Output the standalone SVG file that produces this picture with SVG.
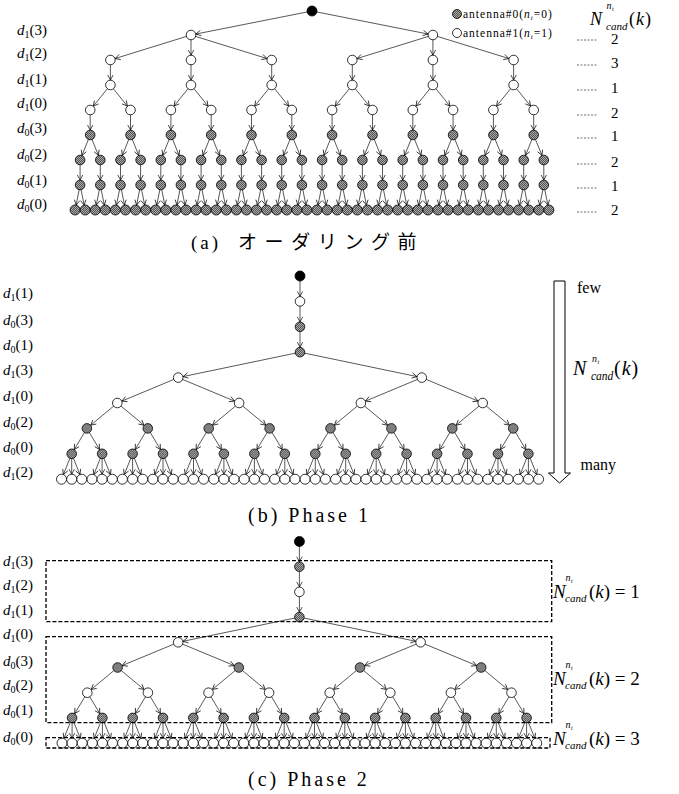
<svg xmlns="http://www.w3.org/2000/svg" width="679" height="794" viewBox="0 0 679 794" font-family="'Liberation Serif','Tinos','Times New Roman','DejaVu Serif',serif">
<defs>
<pattern id="h" width="2" height="2" patternUnits="userSpaceOnUse"><rect width="2" height="2" fill="#555"/><rect width="1" height="1" fill="#a8a8a8"/><rect x="1" y="1" width="1" height="1" fill="#a8a8a8"/></pattern>
<marker id="ah" markerUnits="userSpaceOnUse" markerWidth="12" markerHeight="8" refX="10" refY="3" orient="auto" overflow="visible"><path d="M0,0.3 L5,3 L0,5.7" fill="none" stroke="#000" stroke-width=".7"/></marker>
</defs>
<style>
text{font-family:'Liberation Serif','Tinos','Times New Roman','DejaVu Serif',serif;fill:#000}
.i{font-style:italic}
.lb{font-size:15px}
circle{stroke:#000;stroke-width:.8;r:4.8px}
.lf circle{r:5px}
.w circle{fill:#fff}
.g circle{fill:url(#h)}
.b circle{fill:#000}
.e line{stroke:#111;stroke-width:.7;marker-end:url(#ah)}
.dl{stroke:#444;stroke-width:.8;stroke-dasharray:2 1.5}
.bx{fill:none;stroke:#000;stroke-width:1.3;stroke-dasharray:4 2}
.cap{font-size:20px;letter-spacing:3px}
.jp{font-family:'Noto Sans CJK JP','Noto Sans CJK SC',sans-serif}
</style>
<rect width="679" height="794" fill="#fff"/>

<!-- ========== (a) ========== -->
<g id="edges-a" class="e">
<g transform="translate(0,11)"><line x1="312" x2="191" y2="24"/><line x1="312" x2="432.9" y2="24"/></g>
<g transform="translate(0,35)"><line x1="191" x2="110.4" y2="25"/><line x1="191" x2="191" y2="25"/><line x1="191" x2="271.7" y2="25"/><line x1="432.9" x2="352.3" y2="25"/><line x1="432.9" x2="432.9" y2="25"/><line x1="432.9" x2="513.6" y2="25"/></g>
<g transform="translate(0,60)"><line x1="110.4" x2="110.4" y2="25"/><line x1="191" x2="191" y2="25"/><line x1="271.7" x2="271.7" y2="25"/><line x1="352.3" x2="352.3" y2="25"/><line x1="432.9" x2="432.9" y2="25"/><line x1="513.6" x2="513.6" y2="25"/></g>
<g transform="translate(0,85)"><line x1="110.4" x2="90.2" y2="25"/><line x1="110.4" x2="130.5" y2="25"/><line x1="191" x2="170.9" y2="25"/><line x1="191" x2="211.2" y2="25"/><line x1="271.7" x2="251.5" y2="25"/><line x1="271.7" x2="291.8" y2="25"/><line x1="352.3" x2="332.1" y2="25"/><line x1="352.3" x2="372.5" y2="25"/><line x1="432.9" x2="412.8" y2="25"/><line x1="432.9" x2="453.1" y2="25"/><line x1="513.6" x2="493.4" y2="25"/><line x1="513.6" x2="533.7" y2="25"/></g>
<g transform="translate(0,110)"><line x1="90.2" x2="90.2" y2="25"/><line x1="130.5" x2="130.5" y2="25"/><line x1="170.9" x2="170.9" y2="25"/><line x1="211.2" x2="211.2" y2="25"/><line x1="251.5" x2="251.5" y2="25"/><line x1="291.8" x2="291.8" y2="25"/><line x1="332.1" x2="332.1" y2="25"/><line x1="372.5" x2="372.5" y2="25"/><line x1="412.8" x2="412.8" y2="25"/><line x1="453.1" x2="453.1" y2="25"/><line x1="493.4" x2="493.4" y2="25"/><line x1="533.7" x2="533.7" y2="25"/></g>
<g transform="translate(0,135)"><line x1="90.2" x2="80.1" y2="25"/><line x1="90.2" x2="100.3" y2="25"/><line x1="130.5" x2="120.5" y2="25"/><line x1="130.5" x2="140.6" y2="25"/><line x1="170.9" x2="160.8" y2="25"/><line x1="170.9" x2="180.9" y2="25"/><line x1="211.2" x2="201.1" y2="25"/><line x1="211.2" x2="221.3" y2="25"/><line x1="251.5" x2="241.4" y2="25"/><line x1="251.5" x2="261.6" y2="25"/><line x1="291.8" x2="281.7" y2="25"/><line x1="291.8" x2="301.9" y2="25"/><line x1="332.1" x2="322.1" y2="25"/><line x1="332.1" x2="342.2" y2="25"/><line x1="372.5" x2="362.4" y2="25"/><line x1="372.5" x2="382.5" y2="25"/><line x1="412.8" x2="402.7" y2="25"/><line x1="412.8" x2="422.9" y2="25"/><line x1="453.1" x2="443" y2="25"/><line x1="453.1" x2="463.2" y2="25"/><line x1="493.4" x2="483.3" y2="25"/><line x1="493.4" x2="503.5" y2="25"/><line x1="533.7" x2="523.7" y2="25"/><line x1="533.7" x2="543.8" y2="25"/></g>
<g transform="translate(0,160)"><line x1="80.1" x2="80.1" y2="25"/><line x1="100.3" x2="100.3" y2="25"/><line x1="120.5" x2="120.5" y2="25"/><line x1="140.6" x2="140.6" y2="25"/><line x1="160.8" x2="160.8" y2="25"/><line x1="180.9" x2="180.9" y2="25"/><line x1="201.1" x2="201.1" y2="25"/><line x1="221.3" x2="221.3" y2="25"/><line x1="241.4" x2="241.4" y2="25"/><line x1="261.6" x2="261.6" y2="25"/><line x1="281.7" x2="281.7" y2="25"/><line x1="301.9" x2="301.9" y2="25"/><line x1="322.1" x2="322.1" y2="25"/><line x1="342.2" x2="342.2" y2="25"/><line x1="362.4" x2="362.4" y2="25"/><line x1="382.5" x2="382.5" y2="25"/><line x1="402.7" x2="402.7" y2="25"/><line x1="422.9" x2="422.9" y2="25"/><line x1="443" x2="443" y2="25"/><line x1="463.2" x2="463.2" y2="25"/><line x1="483.3" x2="483.3" y2="25"/><line x1="503.5" x2="503.5" y2="25"/><line x1="523.7" x2="523.7" y2="25"/><line x1="543.8" x2="543.8" y2="25"/></g>
<g transform="translate(0,185)"><line x1="80.1" x2="75.1" y2="25"/><line x1="80.1" x2="85.2" y2="25"/><line x1="100.3" x2="95.3" y2="25"/><line x1="100.3" x2="105.3" y2="25"/><line x1="120.5" x2="115.4" y2="25"/><line x1="120.5" x2="125.5" y2="25"/><line x1="140.6" x2="135.6" y2="25"/><line x1="140.6" x2="145.7" y2="25"/><line x1="160.8" x2="155.7" y2="25"/><line x1="160.8" x2="165.8" y2="25"/><line x1="180.9" x2="175.9" y2="25"/><line x1="180.9" x2="186" y2="25"/><line x1="201.1" x2="196.1" y2="25"/><line x1="201.1" x2="206.1" y2="25"/><line x1="221.3" x2="216.2" y2="25"/><line x1="221.3" x2="226.3" y2="25"/><line x1="241.4" x2="236.4" y2="25"/><line x1="241.4" x2="246.5" y2="25"/><line x1="261.6" x2="256.5" y2="25"/><line x1="261.6" x2="266.6" y2="25"/><line x1="281.7" x2="276.7" y2="25"/><line x1="281.7" x2="286.8" y2="25"/><line x1="301.9" x2="296.9" y2="25"/><line x1="301.9" x2="306.9" y2="25"/><line x1="322.1" x2="317" y2="25"/><line x1="322.1" x2="327.1" y2="25"/><line x1="342.2" x2="337.2" y2="25"/><line x1="342.2" x2="347.3" y2="25"/><line x1="362.4" x2="357.3" y2="25"/><line x1="362.4" x2="367.4" y2="25"/><line x1="382.5" x2="377.5" y2="25"/><line x1="382.5" x2="387.6" y2="25"/><line x1="402.7" x2="397.7" y2="25"/><line x1="402.7" x2="407.7" y2="25"/><line x1="422.9" x2="417.8" y2="25"/><line x1="422.9" x2="427.9" y2="25"/><line x1="443" x2="438" y2="25"/><line x1="443" x2="448.1" y2="25"/><line x1="463.2" x2="458.1" y2="25"/><line x1="463.2" x2="468.2" y2="25"/><line x1="483.3" x2="478.3" y2="25"/><line x1="483.3" x2="488.4" y2="25"/><line x1="503.5" x2="498.5" y2="25"/><line x1="503.5" x2="508.5" y2="25"/><line x1="523.7" x2="518.6" y2="25"/><line x1="523.7" x2="528.7" y2="25"/><line x1="543.8" x2="538.8" y2="25"/><line x1="543.8" x2="548.9" y2="25"/></g>
</g>

<g id="nodes-a">
<g class="b"><circle id="a-root" cx="312" cy="11" style="r:5px"/></g>
<g class="w" transform="translate(0,35)"><circle id="a1-0" cx="191"/><circle id="a1-1" cx="432.9"/></g>
<g class="w" transform="translate(0,60)"><circle id="a2-0" cx="110.4"/><circle id="a2-1" cx="191"/><circle id="a2-2" cx="271.7"/><circle id="a2-3" cx="352.3"/><circle id="a2-4" cx="432.9"/><circle id="a2-5" cx="513.6"/></g>
<g class="w" transform="translate(0,85)"><circle id="a3-0" cx="110.4"/><circle id="a3-1" cx="191"/><circle id="a3-2" cx="271.7"/><circle id="a3-3" cx="352.3"/><circle id="a3-4" cx="432.9"/><circle id="a3-5" cx="513.6"/></g>
<g class="w" transform="translate(0,110)"><circle id="a4-0" cx="90.2"/><circle id="a4-1" cx="130.5"/><circle id="a4-2" cx="170.9"/><circle id="a4-3" cx="211.2"/><circle id="a4-4" cx="251.5"/><circle id="a4-5" cx="291.8"/><circle id="a4-6" cx="332.1"/><circle id="a4-7" cx="372.5"/><circle id="a4-8" cx="412.8"/><circle id="a4-9" cx="453.1"/><circle id="a4-10" cx="493.4"/><circle id="a4-11" cx="533.7"/></g>
<g class="g" transform="translate(0,135)"><circle id="a5-0" cx="90.2"/><circle id="a5-1" cx="130.5"/><circle id="a5-2" cx="170.9"/><circle id="a5-3" cx="211.2"/><circle id="a5-4" cx="251.5"/><circle id="a5-5" cx="291.8"/><circle id="a5-6" cx="332.1"/><circle id="a5-7" cx="372.5"/><circle id="a5-8" cx="412.8"/><circle id="a5-9" cx="453.1"/><circle id="a5-10" cx="493.4"/><circle id="a5-11" cx="533.7"/></g>
<g class="g" transform="translate(0,160)"><circle id="a6-0" cx="80.1"/><circle id="a6-1" cx="100.3"/><circle id="a6-2" cx="120.5"/><circle id="a6-3" cx="140.6"/><circle id="a6-4" cx="160.8"/><circle id="a6-5" cx="180.9"/><circle id="a6-6" cx="201.1"/><circle id="a6-7" cx="221.3"/><circle id="a6-8" cx="241.4"/><circle id="a6-9" cx="261.6"/><circle id="a6-10" cx="281.7"/><circle id="a6-11" cx="301.9"/><circle id="a6-12" cx="322.1"/><circle id="a6-13" cx="342.2"/><circle id="a6-14" cx="362.4"/><circle id="a6-15" cx="382.5"/><circle id="a6-16" cx="402.7"/><circle id="a6-17" cx="422.9"/><circle id="a6-18" cx="443"/><circle id="a6-19" cx="463.2"/><circle id="a6-20" cx="483.3"/><circle id="a6-21" cx="503.5"/><circle id="a6-22" cx="523.7"/><circle id="a6-23" cx="543.8"/></g>
<g class="g" transform="translate(0,185)"><circle id="a7-0" cx="80.1"/><circle id="a7-1" cx="100.3"/><circle id="a7-2" cx="120.5"/><circle id="a7-3" cx="140.6"/><circle id="a7-4" cx="160.8"/><circle id="a7-5" cx="180.9"/><circle id="a7-6" cx="201.1"/><circle id="a7-7" cx="221.3"/><circle id="a7-8" cx="241.4"/><circle id="a7-9" cx="261.6"/><circle id="a7-10" cx="281.7"/><circle id="a7-11" cx="301.9"/><circle id="a7-12" cx="322.1"/><circle id="a7-13" cx="342.2"/><circle id="a7-14" cx="362.4"/><circle id="a7-15" cx="382.5"/><circle id="a7-16" cx="402.7"/><circle id="a7-17" cx="422.9"/><circle id="a7-18" cx="443"/><circle id="a7-19" cx="463.2"/><circle id="a7-20" cx="483.3"/><circle id="a7-21" cx="503.5"/><circle id="a7-22" cx="523.7"/><circle id="a7-23" cx="543.8"/></g>
<g class="g lf" transform="translate(0,210)"><circle id="a8-0" cx="75.1"/><circle id="a8-1" cx="85.2"/><circle id="a8-2" cx="95.3"/><circle id="a8-3" cx="105.3"/><circle id="a8-4" cx="115.4"/><circle id="a8-5" cx="125.5"/><circle id="a8-6" cx="135.6"/><circle id="a8-7" cx="145.7"/><circle id="a8-8" cx="155.7"/><circle id="a8-9" cx="165.8"/><circle id="a8-10" cx="175.9"/><circle id="a8-11" cx="186"/><circle id="a8-12" cx="196.1"/><circle id="a8-13" cx="206.1"/><circle id="a8-14" cx="216.2"/><circle id="a8-15" cx="226.3"/><circle id="a8-16" cx="236.4"/><circle id="a8-17" cx="246.5"/><circle id="a8-18" cx="256.5"/><circle id="a8-19" cx="266.6"/><circle id="a8-20" cx="276.7"/><circle id="a8-21" cx="286.8"/><circle id="a8-22" cx="296.9"/><circle id="a8-23" cx="306.9"/><circle id="a8-24" cx="317"/><circle id="a8-25" cx="327.1"/><circle id="a8-26" cx="337.2"/><circle id="a8-27" cx="347.3"/><circle id="a8-28" cx="357.3"/><circle id="a8-29" cx="367.4"/><circle id="a8-30" cx="377.5"/><circle id="a8-31" cx="387.6"/><circle id="a8-32" cx="397.7"/><circle id="a8-33" cx="407.7"/><circle id="a8-34" cx="417.8"/><circle id="a8-35" cx="427.9"/><circle id="a8-36" cx="438"/><circle id="a8-37" cx="448.1"/><circle id="a8-38" cx="458.1"/><circle id="a8-39" cx="468.2"/><circle id="a8-40" cx="478.3"/><circle id="a8-41" cx="488.4"/><circle id="a8-42" cx="498.5"/><circle id="a8-43" cx="508.5"/><circle id="a8-44" cx="518.6"/><circle id="a8-45" cx="528.7"/><circle id="a8-46" cx="538.8"/><circle id="a8-47" cx="548.9"/></g>
</g>

<g id="labels-a" class="lb">
<text x="17" y="35"><tspan class="i">d</tspan><tspan font-size="10" dy="3">1</tspan><tspan dy="-3">(3)</tspan></text>
<text x="17" y="58"><tspan class="i">d</tspan><tspan font-size="10" dy="3">1</tspan><tspan dy="-3">(2)</tspan></text>
<text x="17" y="84"><tspan class="i">d</tspan><tspan font-size="10" dy="3">1</tspan><tspan dy="-3">(1)</tspan></text>
<text x="17" y="108"><tspan class="i">d</tspan><tspan font-size="10" dy="3">1</tspan><tspan dy="-3">(0)</tspan></text>
<text x="17" y="133"><tspan class="i">d</tspan><tspan font-size="10" dy="3">0</tspan><tspan dy="-3">(3)</tspan></text>
<text x="17" y="159"><tspan class="i">d</tspan><tspan font-size="10" dy="3">0</tspan><tspan dy="-3">(2)</tspan></text>
<text x="17" y="185"><tspan class="i">d</tspan><tspan font-size="10" dy="3">0</tspan><tspan dy="-3">(1)</tspan></text>
<text x="17" y="209"><tspan class="i">d</tspan><tspan font-size="10" dy="3">0</tspan><tspan dy="-3">(0)</tspan></text>
</g>

<g id="legend">
<g class="g"><circle id="leg0" cx="457" cy="14" style="r:4.5px"/></g>
<text x="463" y="18" font-size="11.5" letter-spacing="1">antenna#0(<tspan class="i">n</tspan><tspan font-size="7" class="i" dy="2">t</tspan><tspan dy="-2">=0)</tspan></text>
<g class="w"><circle id="leg1" cx="457" cy="33" style="r:4.5px"/></g>
<text x="463" y="37" font-size="11.5" letter-spacing="1">antenna#1(<tspan class="i">n</tspan><tspan font-size="7" class="i" dy="2">t</tspan><tspan dy="-2">=1)</tspan></text>
</g>

<g id="ncand-a">
<text x="590" y="25" font-size="18" class="i">N</text>
<text x="606.5" y="9" font-size="10" class="i">n</text>
<text x="612" y="11" font-size="6" class="i">t</text>
<text x="606" y="29.5" font-size="11" class="i">cand</text>
<text x="629" y="25" font-size="18" letter-spacing="1">(<tspan class="i">k</tspan>)</text>
<line class="dl" x1="577" y1="40" x2="598" y2="40"/><text x="611" y="44" font-size="15">2</text>
<line class="dl" x1="577" y1="65" x2="598" y2="65"/><text x="611" y="68" font-size="15">3</text>
<line class="dl" x1="577" y1="90" x2="598" y2="90"/><text x="611" y="93" font-size="15">1</text>
<line class="dl" x1="577" y1="115" x2="598" y2="115"/><text x="611" y="118" font-size="15">2</text>
<line class="dl" x1="577" y1="138" x2="598" y2="138"/><text x="611" y="141" font-size="15">1</text>
<line class="dl" x1="577" y1="164" x2="598" y2="164"/><text x="611" y="167" font-size="15">2</text>
<line class="dl" x1="577" y1="188" x2="598" y2="188"/><text x="611" y="191" font-size="15">1</text>
<line class="dl" x1="577" y1="212" x2="598" y2="212"/><text x="611" y="215" font-size="15">2</text>
</g>

<g id="caption-a"><text x="191" y="249" font-size="19" letter-spacing="3">(a)</text><text class="jp" x="238" y="249" font-size="19" letter-spacing="7.6">オーダリング前</text></g>

<!-- ========== (b) ========== -->
<g id="edges-b" class="e">
<g transform="translate(0,276)"><line x1="300" x2="300" y2="25.4"/></g>
<g transform="translate(0,301.4)"><line x1="300" x2="300" y2="25.4"/></g>
<g transform="translate(0,326.8)"><line x1="300" x2="300" y2="25.4"/></g>
<g transform="translate(0,352.2)"><line x1="300" x2="178.2" y2="25.4"/><line x1="300" x2="421.8" y2="25.4"/></g>
<g transform="translate(0,377.6)"><line x1="178.2" x2="117.3" y2="25.4"/><line x1="178.2" x2="239.1" y2="25.4"/><line x1="421.8" x2="360.9" y2="25.4"/><line x1="421.8" x2="482.7" y2="25.4"/></g>
<g transform="translate(0,403)"><line x1="117.3" x2="86.9" y2="25.4"/><line x1="117.3" x2="147.8" y2="25.4"/><line x1="239.1" x2="208.7" y2="25.4"/><line x1="239.1" x2="269.6" y2="25.4"/><line x1="360.9" x2="330.5" y2="25.4"/><line x1="360.9" x2="391.4" y2="25.4"/><line x1="482.7" x2="452.3" y2="25.4"/><line x1="482.7" x2="513.2" y2="25.4"/></g>
<g transform="translate(0,428.4)"><line x1="86.9" x2="71.7" y2="25.4"/><line x1="86.9" x2="102.1" y2="25.4"/><line x1="147.8" x2="132.6" y2="25.4"/><line x1="147.8" x2="163" y2="25.4"/><line x1="208.7" x2="193.5" y2="25.4"/><line x1="208.7" x2="223.9" y2="25.4"/><line x1="269.6" x2="254.4" y2="25.4"/><line x1="269.6" x2="284.8" y2="25.4"/><line x1="330.5" x2="315.3" y2="25.4"/><line x1="330.5" x2="345.7" y2="25.4"/><line x1="391.4" x2="376.2" y2="25.4"/><line x1="391.4" x2="406.6" y2="25.4"/><line x1="452.3" x2="437.1" y2="25.4"/><line x1="452.3" x2="467.5" y2="25.4"/><line x1="513.2" x2="498" y2="25.4"/><line x1="513.2" x2="528.4" y2="25.4"/></g>
<g transform="translate(0,453.8)"><line x1="71.7" x2="61.5" y2="25.4"/><line x1="71.7" x2="71.7" y2="25.4"/><line x1="71.7" x2="81.8" y2="25.4"/><line x1="102.1" x2="92" y2="25.4"/><line x1="102.1" x2="102.1" y2="25.4"/><line x1="102.1" x2="112.3" y2="25.4"/><line x1="132.6" x2="122.4" y2="25.4"/><line x1="132.6" x2="132.6" y2="25.4"/><line x1="132.6" x2="142.7" y2="25.4"/><line x1="163" x2="152.9" y2="25.4"/><line x1="163" x2="163" y2="25.4"/><line x1="163" x2="173.2" y2="25.4"/><line x1="193.5" x2="183.3" y2="25.4"/><line x1="193.5" x2="193.5" y2="25.4"/><line x1="193.5" x2="203.6" y2="25.4"/><line x1="223.9" x2="213.8" y2="25.4"/><line x1="223.9" x2="223.9" y2="25.4"/><line x1="223.9" x2="234.1" y2="25.4"/><line x1="254.4" x2="244.2" y2="25.4"/><line x1="254.4" x2="254.4" y2="25.4"/><line x1="254.4" x2="264.5" y2="25.4"/><line x1="284.8" x2="274.7" y2="25.4"/><line x1="284.8" x2="284.8" y2="25.4"/><line x1="284.8" x2="295" y2="25.4"/><line x1="315.3" x2="305.1" y2="25.4"/><line x1="315.3" x2="315.3" y2="25.4"/><line x1="315.3" x2="325.4" y2="25.4"/><line x1="345.7" x2="335.6" y2="25.4"/><line x1="345.7" x2="345.7" y2="25.4"/><line x1="345.7" x2="355.9" y2="25.4"/><line x1="376.2" x2="366" y2="25.4"/><line x1="376.2" x2="376.2" y2="25.4"/><line x1="376.2" x2="386.3" y2="25.4"/><line x1="406.6" x2="396.5" y2="25.4"/><line x1="406.6" x2="406.6" y2="25.4"/><line x1="406.6" x2="416.8" y2="25.4"/><line x1="437.1" x2="426.9" y2="25.4"/><line x1="437.1" x2="437.1" y2="25.4"/><line x1="437.1" x2="447.2" y2="25.4"/><line x1="467.5" x2="457.4" y2="25.4"/><line x1="467.5" x2="467.5" y2="25.4"/><line x1="467.5" x2="477.7" y2="25.4"/><line x1="498" x2="487.8" y2="25.4"/><line x1="498" x2="498" y2="25.4"/><line x1="498" x2="508.1" y2="25.4"/><line x1="528.4" x2="518.3" y2="25.4"/><line x1="528.4" x2="528.4" y2="25.4"/><line x1="528.4" x2="538.6" y2="25.4"/></g>
</g>

<g id="nodes-b">
<g class="b"><circle id="b-root" cx="300" cy="276" style="r:5px"/></g>
<g class="w"><circle id="b1" cx="300" cy="301.4"/></g>
<g class="g"><circle id="b2" cx="300" cy="326.8"/><circle id="b3" cx="300" cy="352.2"/></g>
<g class="w" transform="translate(0,377.6)"><circle id="b4-0" cx="178.2"/><circle id="b4-1" cx="421.8"/></g>
<g class="w" transform="translate(0,403)"><circle id="b5-0" cx="117.3"/><circle id="b5-1" cx="239.1"/><circle id="b5-2" cx="360.9"/><circle id="b5-3" cx="482.7"/></g>
<g class="g" transform="translate(0,428.4)"><circle id="b6-0" cx="86.9"/><circle id="b6-1" cx="147.8"/><circle id="b6-2" cx="208.7"/><circle id="b6-3" cx="269.6"/><circle id="b6-4" cx="330.5"/><circle id="b6-5" cx="391.4"/><circle id="b6-6" cx="452.3"/><circle id="b6-7" cx="513.2"/></g>
<g class="g" transform="translate(0,453.8)"><circle id="b7-0" cx="71.7"/><circle id="b7-1" cx="102.1"/><circle id="b7-2" cx="132.6"/><circle id="b7-3" cx="163"/><circle id="b7-4" cx="193.5"/><circle id="b7-5" cx="223.9"/><circle id="b7-6" cx="254.4"/><circle id="b7-7" cx="284.8"/><circle id="b7-8" cx="315.3"/><circle id="b7-9" cx="345.7"/><circle id="b7-10" cx="376.2"/><circle id="b7-11" cx="406.6"/><circle id="b7-12" cx="437.1"/><circle id="b7-13" cx="467.5"/><circle id="b7-14" cx="498"/><circle id="b7-15" cx="528.4"/></g>
<g class="w lf" transform="translate(0,479.2)"><circle id="b8-0" cx="61.5"/><circle id="b8-1" cx="71.7"/><circle id="b8-2" cx="81.8"/><circle id="b8-3" cx="92"/><circle id="b8-4" cx="102.1"/><circle id="b8-5" cx="112.3"/><circle id="b8-6" cx="122.4"/><circle id="b8-7" cx="132.6"/><circle id="b8-8" cx="142.7"/><circle id="b8-9" cx="152.9"/><circle id="b8-10" cx="163"/><circle id="b8-11" cx="173.2"/><circle id="b8-12" cx="183.3"/><circle id="b8-13" cx="193.5"/><circle id="b8-14" cx="203.6"/><circle id="b8-15" cx="213.8"/><circle id="b8-16" cx="223.9"/><circle id="b8-17" cx="234.1"/><circle id="b8-18" cx="244.2"/><circle id="b8-19" cx="254.4"/><circle id="b8-20" cx="264.5"/><circle id="b8-21" cx="274.7"/><circle id="b8-22" cx="284.8"/><circle id="b8-23" cx="295"/><circle id="b8-24" cx="305.1"/><circle id="b8-25" cx="315.3"/><circle id="b8-26" cx="325.4"/><circle id="b8-27" cx="335.6"/><circle id="b8-28" cx="345.7"/><circle id="b8-29" cx="355.9"/><circle id="b8-30" cx="366"/><circle id="b8-31" cx="376.2"/><circle id="b8-32" cx="386.3"/><circle id="b8-33" cx="396.5"/><circle id="b8-34" cx="406.6"/><circle id="b8-35" cx="416.8"/><circle id="b8-36" cx="426.9"/><circle id="b8-37" cx="437.1"/><circle id="b8-38" cx="447.2"/><circle id="b8-39" cx="457.4"/><circle id="b8-40" cx="467.5"/><circle id="b8-41" cx="477.7"/><circle id="b8-42" cx="487.8"/><circle id="b8-43" cx="498"/><circle id="b8-44" cx="508.1"/><circle id="b8-45" cx="518.3"/><circle id="b8-46" cx="528.4"/><circle id="b8-47" cx="538.6"/></g>
</g>

<g id="labels-b" class="lb">
<text x="3" y="298"><tspan class="i">d</tspan><tspan font-size="10" dy="3">1</tspan><tspan dy="-3">(1)</tspan></text>
<text x="3" y="325"><tspan class="i">d</tspan><tspan font-size="10" dy="3">0</tspan><tspan dy="-3">(3)</tspan></text>
<text x="3" y="350"><tspan class="i">d</tspan><tspan font-size="10" dy="3">0</tspan><tspan dy="-3">(1)</tspan></text>
<text x="3" y="375"><tspan class="i">d</tspan><tspan font-size="10" dy="3">1</tspan><tspan dy="-3">(3)</tspan></text>
<text x="3" y="401"><tspan class="i">d</tspan><tspan font-size="10" dy="3">1</tspan><tspan dy="-3">(0)</tspan></text>
<text x="3" y="427"><tspan class="i">d</tspan><tspan font-size="10" dy="3">0</tspan><tspan dy="-3">(2)</tspan></text>
<text x="3" y="452"><tspan class="i">d</tspan><tspan font-size="10" dy="3">0</tspan><tspan dy="-3">(0)</tspan></text>
<text x="3" y="477"><tspan class="i">d</tspan><tspan font-size="10" dy="3">1</tspan><tspan dy="-3">(2)</tspan></text>
</g>

<g id="order-arrow">
<path d="M554,281 H565 V473 H570.5 L559.5,483 L548.5,473 H554 Z" fill="#fff" stroke="#000" stroke-width="1"/>
<text x="577" y="293" font-size="16">few</text>
<text x="580.5" y="470" font-size="16">many</text>
<text x="573" y="375" font-size="20" class="i">N</text>
<text x="592" y="362" font-size="10" class="i">n</text>
<text x="597.5" y="364" font-size="6" class="i">t</text>
<text x="591" y="380" font-size="11.5" class="i">cand</text>
<text x="614" y="375" font-size="20" letter-spacing="1">(<tspan class="i">k</tspan>)</text>
</g>

<text id="caption-b" class="cap" x="248" y="522">(b) Phase 1</text>

<!-- ========== (c) ========== -->
<g id="edges-c" class="e">
<g transform="translate(0,541.5)"><line x1="299.4" x2="299.4" y2="25.2"/></g>
<g transform="translate(0,566.7)"><line x1="299.4" x2="299.4" y2="25.2"/></g>
<g transform="translate(0,591.9)"><line x1="299.4" x2="299.4" y2="25.2"/></g>
<g transform="translate(0,617.1)"><line x1="299.4" x2="178.2" y2="25.2"/><line x1="299.4" x2="420.6" y2="25.2"/></g>
<g transform="translate(0,642.3)"><line x1="178.2" x2="117.6" y2="25.2"/><line x1="178.2" x2="238.8" y2="25.2"/><line x1="420.6" x2="360" y2="25.2"/><line x1="420.6" x2="481.2" y2="25.2"/></g>
<g transform="translate(0,667.5)"><line x1="117.6" x2="87.3" y2="25.2"/><line x1="117.6" x2="147.9" y2="25.2"/><line x1="238.8" x2="208.5" y2="25.2"/><line x1="238.8" x2="269.1" y2="25.2"/><line x1="360" x2="329.7" y2="25.2"/><line x1="360" x2="390.3" y2="25.2"/><line x1="481.2" x2="450.9" y2="25.2"/><line x1="481.2" x2="511.5" y2="25.2"/></g>
<g transform="translate(0,692.7)"><line x1="87.3" x2="72.1" y2="25.2"/><line x1="87.3" x2="102.4" y2="25.2"/><line x1="147.9" x2="132.7" y2="25.2"/><line x1="147.9" x2="163" y2="25.2"/><line x1="208.5" x2="193.3" y2="25.2"/><line x1="208.5" x2="223.6" y2="25.2"/><line x1="269.1" x2="253.9" y2="25.2"/><line x1="269.1" x2="284.2" y2="25.2"/><line x1="329.7" x2="314.5" y2="25.2"/><line x1="329.7" x2="344.8" y2="25.2"/><line x1="390.3" x2="375.1" y2="25.2"/><line x1="390.3" x2="405.4" y2="25.2"/><line x1="450.9" x2="435.7" y2="25.2"/><line x1="450.9" x2="466" y2="25.2"/><line x1="511.5" x2="496.3" y2="25.2"/><line x1="511.5" x2="526.6" y2="25.2"/></g>
<g transform="translate(0,717.9)"><line x1="72.1" x2="62" y2="25.2"/><line x1="72.1" x2="72.1" y2="25.2"/><line x1="72.1" x2="82.2" y2="25.2"/><line x1="102.4" x2="92.3" y2="25.2"/><line x1="102.4" x2="102.4" y2="25.2"/><line x1="102.4" x2="112.5" y2="25.2"/><line x1="132.7" x2="122.6" y2="25.2"/><line x1="132.7" x2="132.7" y2="25.2"/><line x1="132.7" x2="142.8" y2="25.2"/><line x1="163" x2="152.9" y2="25.2"/><line x1="163" x2="163" y2="25.2"/><line x1="163" x2="173.1" y2="25.2"/><line x1="193.3" x2="183.2" y2="25.2"/><line x1="193.3" x2="193.3" y2="25.2"/><line x1="193.3" x2="203.4" y2="25.2"/><line x1="223.6" x2="213.5" y2="25.2"/><line x1="223.6" x2="223.6" y2="25.2"/><line x1="223.6" x2="233.7" y2="25.2"/><line x1="253.9" x2="243.8" y2="25.2"/><line x1="253.9" x2="253.9" y2="25.2"/><line x1="253.9" x2="264" y2="25.2"/><line x1="284.2" x2="274.1" y2="25.2"/><line x1="284.2" x2="284.2" y2="25.2"/><line x1="284.2" x2="294.3" y2="25.2"/><line x1="314.5" x2="304.4" y2="25.2"/><line x1="314.5" x2="314.5" y2="25.2"/><line x1="314.5" x2="324.6" y2="25.2"/><line x1="344.8" x2="334.7" y2="25.2"/><line x1="344.8" x2="344.8" y2="25.2"/><line x1="344.8" x2="354.9" y2="25.2"/><line x1="375.1" x2="365" y2="25.2"/><line x1="375.1" x2="375.1" y2="25.2"/><line x1="375.1" x2="385.2" y2="25.2"/><line x1="405.4" x2="395.3" y2="25.2"/><line x1="405.4" x2="405.4" y2="25.2"/><line x1="405.4" x2="415.5" y2="25.2"/><line x1="435.7" x2="425.6" y2="25.2"/><line x1="435.7" x2="435.7" y2="25.2"/><line x1="435.7" x2="445.8" y2="25.2"/><line x1="466" x2="455.9" y2="25.2"/><line x1="466" x2="466" y2="25.2"/><line x1="466" x2="476.1" y2="25.2"/><line x1="496.3" x2="486.2" y2="25.2"/><line x1="496.3" x2="496.3" y2="25.2"/><line x1="496.3" x2="506.4" y2="25.2"/><line x1="526.6" x2="516.5" y2="25.2"/><line x1="526.6" x2="526.6" y2="25.2"/><line x1="526.6" x2="536.7" y2="25.2"/></g>
</g>

<g id="nodes-c">
<g class="b"><circle id="c-root" cx="299.4" cy="541.5" style="r:5px"/></g>
<g class="g"><circle id="c1" cx="299.4" cy="566.7"/></g>
<g class="w"><circle id="c2" cx="299.4" cy="591.9"/></g>
<g class="g"><circle id="c3" cx="299.4" cy="617.1"/></g>
<g class="w" transform="translate(0,642.3)"><circle id="c4-0" cx="178.2"/><circle id="c4-1" cx="420.6"/></g>
<g class="g" transform="translate(0,667.5)"><circle id="c5-0" cx="117.6"/><circle id="c5-1" cx="238.8"/><circle id="c5-2" cx="360"/><circle id="c5-3" cx="481.2"/></g>
<g class="w" transform="translate(0,692.7)"><circle id="c6-0" cx="87.3"/><circle id="c6-1" cx="147.9"/><circle id="c6-2" cx="208.5"/><circle id="c6-3" cx="269.1"/><circle id="c6-4" cx="329.7"/><circle id="c6-5" cx="390.3"/><circle id="c6-6" cx="450.9"/><circle id="c6-7" cx="511.5"/></g>
<g class="g" transform="translate(0,717.9)"><circle id="c7-0" cx="72.1"/><circle id="c7-1" cx="102.4"/><circle id="c7-2" cx="132.7"/><circle id="c7-3" cx="163"/><circle id="c7-4" cx="193.3"/><circle id="c7-5" cx="223.6"/><circle id="c7-6" cx="253.9"/><circle id="c7-7" cx="284.2"/><circle id="c7-8" cx="314.5"/><circle id="c7-9" cx="344.8"/><circle id="c7-10" cx="375.1"/><circle id="c7-11" cx="405.4"/><circle id="c7-12" cx="435.7"/><circle id="c7-13" cx="466"/><circle id="c7-14" cx="496.3"/><circle id="c7-15" cx="526.6"/></g>
<g class="w lf" transform="translate(0,743.1)"><circle id="c8-0" cx="62"/><circle id="c8-1" cx="72.1"/><circle id="c8-2" cx="82.2"/><circle id="c8-3" cx="92.3"/><circle id="c8-4" cx="102.4"/><circle id="c8-5" cx="112.5"/><circle id="c8-6" cx="122.6"/><circle id="c8-7" cx="132.7"/><circle id="c8-8" cx="142.8"/><circle id="c8-9" cx="152.9"/><circle id="c8-10" cx="163"/><circle id="c8-11" cx="173.1"/><circle id="c8-12" cx="183.2"/><circle id="c8-13" cx="193.3"/><circle id="c8-14" cx="203.4"/><circle id="c8-15" cx="213.5"/><circle id="c8-16" cx="223.6"/><circle id="c8-17" cx="233.7"/><circle id="c8-18" cx="243.8"/><circle id="c8-19" cx="253.9"/><circle id="c8-20" cx="264"/><circle id="c8-21" cx="274.1"/><circle id="c8-22" cx="284.2"/><circle id="c8-23" cx="294.3"/><circle id="c8-24" cx="304.4"/><circle id="c8-25" cx="314.5"/><circle id="c8-26" cx="324.6"/><circle id="c8-27" cx="334.7"/><circle id="c8-28" cx="344.8"/><circle id="c8-29" cx="354.9"/><circle id="c8-30" cx="365"/><circle id="c8-31" cx="375.1"/><circle id="c8-32" cx="385.2"/><circle id="c8-33" cx="395.3"/><circle id="c8-34" cx="405.4"/><circle id="c8-35" cx="415.5"/><circle id="c8-36" cx="425.6"/><circle id="c8-37" cx="435.7"/><circle id="c8-38" cx="445.8"/><circle id="c8-39" cx="455.9"/><circle id="c8-40" cx="466"/><circle id="c8-41" cx="476.1"/><circle id="c8-42" cx="486.2"/><circle id="c8-43" cx="496.3"/><circle id="c8-44" cx="506.4"/><circle id="c8-45" cx="516.5"/><circle id="c8-46" cx="526.6"/><circle id="c8-47" cx="536.7"/></g>
</g>

<g id="boxes-c">
<rect class="bx" x="46" y="560.7" width="505.7" height="61"/>
<rect class="bx" x="46" y="636.7" width="505.7" height="86"/>
<rect class="bx" x="46" y="737.7" width="504" height="10.3"/>
</g>

<g id="labels-c" class="lb">
<text x="3" y="566"><tspan class="i">d</tspan><tspan font-size="10" dy="3">1</tspan><tspan dy="-3">(3)</tspan></text>
<text x="3" y="590"><tspan class="i">d</tspan><tspan font-size="10" dy="3">1</tspan><tspan dy="-3">(2)</tspan></text>
<text x="3" y="615"><tspan class="i">d</tspan><tspan font-size="10" dy="3">1</tspan><tspan dy="-3">(1)</tspan></text>
<text x="3" y="639"><tspan class="i">d</tspan><tspan font-size="10" dy="3">1</tspan><tspan dy="-3">(0)</tspan></text>
<text x="3" y="666"><tspan class="i">d</tspan><tspan font-size="10" dy="3">0</tspan><tspan dy="-3">(3)</tspan></text>
<text x="3" y="690"><tspan class="i">d</tspan><tspan font-size="10" dy="3">0</tspan><tspan dy="-3">(2)</tspan></text>
<text x="3" y="715"><tspan class="i">d</tspan><tspan font-size="10" dy="3">0</tspan><tspan dy="-3">(1)</tspan></text>
<text x="3" y="742"><tspan class="i">d</tspan><tspan font-size="10" dy="3">0</tspan><tspan dy="-3">(0)</tspan></text>
</g>

<g id="ncand-c">
<text x="553" y="598" font-size="19" class="i">N</text><text x="565.5" y="581" font-size="10" class="i">n</text><text x="571" y="583" font-size="6" class="i">t</text><text x="565" y="602" font-size="11" class="i">cand</text><text x="589" y="598" font-size="19">(<tspan class="i">k</tspan>) = 1</text>
<text x="553" y="685" font-size="19" class="i">N</text><text x="565.5" y="668" font-size="10" class="i">n</text><text x="571" y="670" font-size="6" class="i">t</text><text x="565" y="689" font-size="11" class="i">cand</text><text x="589" y="685" font-size="19">(<tspan class="i">k</tspan>) = 2</text>
<text x="553" y="745" font-size="19" class="i">N</text><text x="565.5" y="728" font-size="10" class="i">n</text><text x="571" y="730" font-size="6" class="i">t</text><text x="565" y="749" font-size="11" class="i">cand</text><text x="589" y="745" font-size="19">(<tspan class="i">k</tspan>) = 3</text>
</g>

<text id="caption-c" class="cap" x="248" y="786">(c) Phase 2</text>
</svg>
